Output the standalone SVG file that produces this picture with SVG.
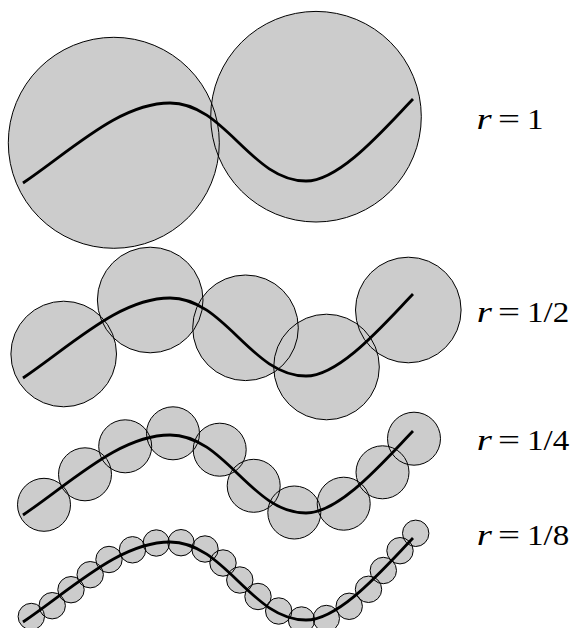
<svg xmlns="http://www.w3.org/2000/svg" xmlns:xlink="http://www.w3.org/1999/xlink" width="574" height="628" viewBox="0 0 574 628">
<style>
.f{fill:#cccccc;stroke:none}
.o{fill:none;stroke:#000;stroke-width:1}
.c{fill:none;stroke:#000;stroke-width:2.8;stroke-linejoin:round}
text{font-family:"Liberation Serif","Times New Roman",serif;font-size:30px;fill:#000}
.i{font-style:italic}
</style>
<defs>
<path id="curve" d="M23,183 C73,149 120,103 170,103 C225,103 251,181 306,181 C340,181 385,128 413,99"/>
<g id="r1">
<circle cx="113.8" cy="142.8" r="105.5"/>
<circle cx="316" cy="116.7" r="105.3"/>
</g>
<g id="r2">
<circle cx="63.7" cy="354" r="52.8"/>
<circle cx="150.2" cy="300" r="52.8"/>
<circle cx="245.5" cy="327.8" r="52.8"/>
<circle cx="326.5" cy="367" r="52.8"/>
<circle cx="408.3" cy="310" r="52.8"/>
</g>
<g id="r4">
<circle cx="44" cy="504.8" r="26.5"/>
<circle cx="85" cy="474.3" r="26.5"/>
<circle cx="125.2" cy="446.3" r="26.5"/>
<circle cx="173" cy="433.3" r="26.5"/>
<circle cx="219.7" cy="449.7" r="26.5"/>
<circle cx="253.7" cy="485.8" r="26.5"/>
<circle cx="294.3" cy="512.5" r="26.5"/>
<circle cx="343.7" cy="503.7" r="26.5"/>
<circle cx="382.5" cy="472.3" r="26.5"/>
<circle cx="414" cy="438.7" r="26.5"/>
</g>
<g id="r8">
<circle cx="31.3" cy="616.5" r="13.2"/>
<circle cx="52.2" cy="605.7" r="13.2"/>
<circle cx="71" cy="589.7" r="13.2"/>
<circle cx="90.2" cy="574.7" r="13.2"/>
<circle cx="109" cy="559.5" r="13.2"/>
<circle cx="132.5" cy="549.8" r="13.2"/>
<circle cx="156.3" cy="543" r="13.2"/>
<circle cx="181" cy="542.7" r="13.2"/>
<circle cx="205" cy="549" r="13.2"/>
<circle cx="223" cy="563" r="13.2"/>
<circle cx="239.8" cy="580" r="13.2"/>
<circle cx="258" cy="596.5" r="13.2"/>
<circle cx="278.7" cy="611" r="13.2"/>
<circle cx="301.5" cy="620" r="13.2"/>
<circle cx="326.3" cy="618.5" r="13.2"/>
<circle cx="349.2" cy="606.3" r="13.2"/>
<circle cx="368.5" cy="589.3" r="13.2"/>
<circle cx="383.3" cy="570.5" r="13.2"/>
<circle cx="400" cy="550.7" r="13.2"/>
<circle cx="415.7" cy="533.3" r="13.2"/>
</g>
</defs>
<g id="row-r1">
<use xlink:href="#r1" class="f"/>
<use xlink:href="#r1" class="o"/>
<use xlink:href="#curve" class="c"/>
<g id="label-r1">
<text class="i" transform="translate(476.5,129) scale(1.3,1)">r</text>
<text transform="translate(498,129) scale(1.3,1)">=</text>
<text transform="translate(527,129) scale(1.1,1)">1</text>
</g>
</g>
<g id="row-r2">
<use xlink:href="#r2" class="f"/>
<use xlink:href="#r2" class="o"/>
<use xlink:href="#curve" class="c" transform="translate(0,195)"/>
<g id="label-r2">
<text class="i" transform="translate(476.8,322) scale(1.3,1)">r</text>
<text transform="translate(498,322) scale(1.3,1)">=</text>
<text transform="translate(527,322) scale(1.1,1)">1/2</text>
</g>
</g>
<g id="row-r4">
<use xlink:href="#r4" class="f"/>
<use xlink:href="#r4" class="o"/>
<use xlink:href="#curve" class="c" transform="translate(0,332)"/>
<g id="label-r4">
<text class="i" transform="translate(476.8,449.5) scale(1.3,1)">r</text>
<text transform="translate(498,449.5) scale(1.3,1)">=</text>
<text transform="translate(527,449.5) scale(1.1,1)">1/4</text>
</g>
</g>
<g id="row-r8">
<use xlink:href="#r8" class="f"/>
<use xlink:href="#r8" class="o"/>
<use xlink:href="#curve" class="c" transform="translate(0,439)"/>
<g id="label-r8">
<text class="i" transform="translate(476.8,544.8) scale(1.3,1)">r</text>
<text transform="translate(498,544.8) scale(1.3,1)">=</text>
<text transform="translate(527,544.8) scale(1.1,1)">1/8</text>
</g>
</g>
</svg>
